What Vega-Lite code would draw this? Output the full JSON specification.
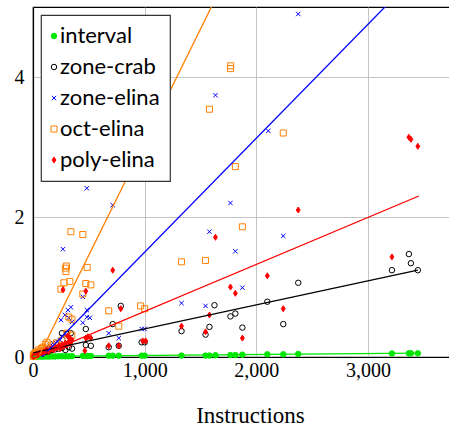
{
"$schema": "https://vega.github.io/schema/vega-lite/v6.json",
"width": 417, "height": 350,
"autosize": "none",
"padding": {"left": 33, "top": 7, "right": 0, "bottom": 71},
"datasets": {
"points": [
{"series":"interval","x":2,"y":0.005},{"series":"interval","x":10,"y":0.005},{"series":"interval","x":20,"y":0.005},{"series":"interval","x":35,"y":0.006},{"series":"interval","x":50,"y":0.006},{"series":"interval","x":70,"y":0.006},{"series":"interval","x":90,"y":0.007},{"series":"interval","x":110,"y":0.007},{"series":"interval","x":130,"y":0.007},{"series":"interval","x":150,"y":0.008},{"series":"interval","x":175,"y":0.008},{"series":"interval","x":200,"y":0.008},{"series":"interval","x":230,"y":0.01},{"series":"interval","x":260,"y":0.01},{"series":"interval","x":290,"y":0.01},{"series":"interval","x":320,"y":0.01},{"series":"interval","x":350,"y":0.012},{"series":"interval","x":446,"y":0.015},{"series":"interval","x":473,"y":0.015},{"series":"interval","x":491,"y":0.015},{"series":"interval","x":518,"y":0.015},{"series":"interval","x":678,"y":0.019},{"series":"interval","x":714,"y":0.019},{"series":"interval","x":768,"y":0.019},{"series":"interval","x":973,"y":0.019},{"series":"interval","x":1000,"y":0.019},{"series":"interval","x":1330,"y":0.02},{"series":"interval","x":1545,"y":0.02},{"series":"interval","x":1580,"y":0.02},{"series":"interval","x":1634,"y":0.025},{"series":"interval","x":1768,"y":0.028},{"series":"interval","x":1812,"y":0.028},{"series":"interval","x":1875,"y":0.033},{"series":"interval","x":2098,"y":0.038},{"series":"interval","x":2241,"y":0.038},{"series":"interval","x":2375,"y":0.043},{"series":"interval","x":3214,"y":0.05},{"series":"interval","x":3366,"y":0.052},{"series":"interval","x":3384,"y":0.052},{"series":"interval","x":3446,"y":0.052},
{"series":"zone-crab","x":3,"y":0.01},{"series":"zone-crab","x":10,"y":0.02},{"series":"zone-crab","x":20,"y":0.02},{"series":"zone-crab","x":35,"y":0.03},{"series":"zone-crab","x":50,"y":0.04},{"series":"zone-crab","x":70,"y":0.05},{"series":"zone-crab","x":90,"y":0.06},{"series":"zone-crab","x":110,"y":0.07},{"series":"zone-crab","x":140,"y":0.08},{"series":"zone-crab","x":170,"y":0.1},{"series":"zone-crab","x":200,"y":0.11},{"series":"zone-crab","x":230,"y":0.12},{"series":"zone-crab","x":260,"y":0.13},{"series":"zone-crab","x":290,"y":0.1},{"series":"zone-crab","x":320,"y":0.14},{"series":"zone-crab","x":350,"y":0.12},{"series":"zone-crab","x":259,"y":0.34},{"series":"zone-crab","x":304,"y":0.33},{"series":"zone-crab","x":339,"y":0.34},{"series":"zone-crab","x":473,"y":0.4},{"series":"zone-crab","x":473,"y":0.17},{"series":"zone-crab","x":518,"y":0.16},{"series":"zone-crab","x":678,"y":0.14},{"series":"zone-crab","x":714,"y":0.47},{"series":"zone-crab","x":768,"y":0.16},{"series":"zone-crab","x":786,"y":0.73},{"series":"zone-crab","x":973,"y":0.21},{"series":"zone-crab","x":1000,"y":0.21},{"series":"zone-crab","x":1330,"y":0.37},{"series":"zone-crab","x":1545,"y":0.32},{"series":"zone-crab","x":1580,"y":0.43},{"series":"zone-crab","x":1625,"y":0.74},{"series":"zone-crab","x":1768,"y":0.58},{"series":"zone-crab","x":1812,"y":0.62},{"series":"zone-crab","x":1875,"y":0.42},{"series":"zone-crab","x":2098,"y":0.79},{"series":"zone-crab","x":2241,"y":0.47},{"series":"zone-crab","x":2375,"y":1.06},{"series":"zone-crab","x":3214,"y":1.24},{"series":"zone-crab","x":3366,"y":1.47},{"series":"zone-crab","x":3384,"y":1.34},{"series":"zone-crab","x":3446,"y":1.24},
{"series":"zone-elina","x":3,"y":0.01},{"series":"zone-elina","x":10,"y":0.02},{"series":"zone-elina","x":25,"y":0.03},{"series":"zone-elina","x":40,"y":0.05},{"series":"zone-elina","x":60,"y":0.07},{"series":"zone-elina","x":90,"y":0.1},{"series":"zone-elina","x":120,"y":0.13},{"series":"zone-elina","x":150,"y":0.16},{"series":"zone-elina","x":179,"y":0.2},{"series":"zone-elina","x":220,"y":0.22},{"series":"zone-elina","x":241,"y":0.24},{"series":"zone-elina","x":268,"y":0.29},{"series":"zone-elina","x":300,"y":0.31},{"series":"zone-elina","x":250,"y":0.53},{"series":"zone-elina","x":286,"y":0.6},{"series":"zone-elina","x":321,"y":0.56},{"series":"zone-elina","x":339,"y":0.71},{"series":"zone-elina","x":313,"y":0.67},{"series":"zone-elina","x":348,"y":0.5},{"series":"zone-elina","x":268,"y":1.54},{"series":"zone-elina","x":446,"y":0.86},{"series":"zone-elina","x":482,"y":0.67},{"series":"zone-elina","x":509,"y":0.56},{"series":"zone-elina","x":482,"y":0.57},{"series":"zone-elina","x":446,"y":0.49},{"series":"zone-elina","x":482,"y":2.41},{"series":"zone-elina","x":678,"y":0.34},{"series":"zone-elina","x":714,"y":2.17},{"series":"zone-elina","x":768,"y":0.27},{"series":"zone-elina","x":973,"y":0.4},{"series":"zone-elina","x":1000,"y":0.4},{"series":"zone-elina","x":1330,"y":0.77},{"series":"zone-elina","x":1545,"y":0.73},{"series":"zone-elina","x":1580,"y":1.79},{"series":"zone-elina","x":1634,"y":3.74},{"series":"zone-elina","x":1768,"y":2.2},{"series":"zone-elina","x":1812,"y":1.51},{"series":"zone-elina","x":1875,"y":0.99},{"series":"zone-elina","x":2107,"y":3.23},{"series":"zone-elina","x":2241,"y":1.73},{"series":"zone-elina","x":2375,"y":4.9},
{"series":"oct-elina","x":2,"y":0.01},{"series":"oct-elina","x":5,"y":0.03},{"series":"oct-elina","x":10,"y":0.02},{"series":"oct-elina","x":15,"y":0.05},{"series":"oct-elina","x":20,"y":0.04},{"series":"oct-elina","x":30,"y":0.07},{"series":"oct-elina","x":40,"y":0.05},{"series":"oct-elina","x":50,"y":0.1},{"series":"oct-elina","x":60,"y":0.08},{"series":"oct-elina","x":75,"y":0.12},{"series":"oct-elina","x":89,"y":0.14},{"series":"oct-elina","x":110,"y":0.18},{"series":"oct-elina","x":125,"y":0.21},{"series":"oct-elina","x":150,"y":0.12},{"series":"oct-elina","x":180,"y":0.17},{"series":"oct-elina","x":210,"y":0.2},{"series":"oct-elina","x":259,"y":0.24},{"series":"oct-elina","x":304,"y":0.34},{"series":"oct-elina","x":348,"y":0.31},{"series":"oct-elina","x":250,"y":0.97},{"series":"oct-elina","x":277,"y":1.06},{"series":"oct-elina","x":330,"y":1.08},{"series":"oct-elina","x":290,"y":1.27},{"series":"oct-elina","x":295,"y":1.22},{"series":"oct-elina","x":300,"y":1.3},{"series":"oct-elina","x":339,"y":1.79},{"series":"oct-elina","x":446,"y":1.75},{"series":"oct-elina","x":485,"y":1.28},{"series":"oct-elina","x":473,"y":1.05},{"series":"oct-elina","x":518,"y":1.03},{"series":"oct-elina","x":446,"y":0.9},{"series":"oct-elina","x":321,"y":0.57},{"series":"oct-elina","x":348,"y":0.54},{"series":"oct-elina","x":678,"y":0.66},{"series":"oct-elina","x":768,"y":0.44},{"series":"oct-elina","x":964,"y":0.73},{"series":"oct-elina","x":1000,"y":0.69},{"series":"oct-elina","x":1330,"y":1.36},{"series":"oct-elina","x":1545,"y":1.38},{"series":"oct-elina","x":1580,"y":3.54},{"series":"oct-elina","x":1768,"y":4.12},{"series":"oct-elina","x":1770,"y":4.16},{"series":"oct-elina","x":1812,"y":2.72},{"series":"oct-elina","x":1875,"y":1.86},{"series":"oct-elina","x":2241,"y":3.2},
{"series":"poly-elina","x":3,"y":0.01},{"series":"poly-elina","x":8,"y":0.02},{"series":"poly-elina","x":15,"y":0.02},{"series":"poly-elina","x":25,"y":0.03},{"series":"poly-elina","x":35,"y":0.04},{"series":"poly-elina","x":45,"y":0.03},{"series":"poly-elina","x":55,"y":0.05},{"series":"poly-elina","x":65,"y":0.06},{"series":"poly-elina","x":75,"y":0.05},{"series":"poly-elina","x":85,"y":0.07},{"series":"poly-elina","x":95,"y":0.08},{"series":"poly-elina","x":105,"y":0.06},{"series":"poly-elina","x":115,"y":0.09},{"series":"poly-elina","x":125,"y":0.1},{"series":"poly-elina","x":140,"y":0.08},{"series":"poly-elina","x":155,"y":0.11},{"series":"poly-elina","x":170,"y":0.12},{"series":"poly-elina","x":185,"y":0.1},{"series":"poly-elina","x":200,"y":0.14},{"series":"poly-elina","x":215,"y":0.13},{"series":"poly-elina","x":230,"y":0.16},{"series":"poly-elina","x":245,"y":0.12},{"series":"poly-elina","x":260,"y":0.18},{"series":"poly-elina","x":275,"y":0.15},{"series":"poly-elina","x":290,"y":0.2},{"series":"poly-elina","x":305,"y":0.17},{"series":"poly-elina","x":320,"y":0.22},{"series":"poly-elina","x":335,"y":0.19},{"series":"poly-elina","x":350,"y":0.24},{"series":"poly-elina","x":310,"y":0.3},{"series":"poly-elina","x":330,"y":0.27},{"series":"poly-elina","x":268,"y":0.96},{"series":"poly-elina","x":473,"y":0.94},{"series":"poly-elina","x":473,"y":0.27},{"series":"poly-elina","x":491,"y":0.29},{"series":"poly-elina","x":518,"y":0.27},{"series":"poly-elina","x":464,"y":0.09},{"series":"poly-elina","x":678,"y":0.16},{"series":"poly-elina","x":714,"y":1.24},{"series":"poly-elina","x":768,"y":0.16},{"series":"poly-elina","x":786,"y":0.69},{"series":"poly-elina","x":982,"y":0.23},{"series":"poly-elina","x":1009,"y":0.23},{"series":"poly-elina","x":1330,"y":0.44},{"series":"poly-elina","x":1545,"y":0.36},{"series":"poly-elina","x":1580,"y":0.6},{"series":"poly-elina","x":1634,"y":1.71},{"series":"poly-elina","x":1768,"y":1.0},{"series":"poly-elina","x":1812,"y":0.91},{"series":"poly-elina","x":1875,"y":0.27},{"series":"poly-elina","x":2098,"y":1.16},{"series":"poly-elina","x":2241,"y":0.69},{"series":"poly-elina","x":2375,"y":2.1},{"series":"poly-elina","x":3214,"y":1.43},{"series":"poly-elina","x":3366,"y":3.14},{"series":"poly-elina","x":3384,"y":3.11},{"series":"poly-elina","x":3446,"y":3.01}
],
"fits": [
{"series":"interval","x":0,"y":0.008,"x2":3446,"y2":0.055},
{"series":"zone-crab","x":0,"y":0.06,"x2":3446,"y2":1.24},
{"series":"zone-elina","x":0,"y":-0.13,"x2":3446,"y2":5.48},
{"series":"oct-elina","x":0,"y":-0.16,"x2":3446,"y2":10.97},
{"series":"poly-elina","x":0,"y":-0.02,"x2":3455,"y2":2.3}
]
},
"config": {
"view": {"stroke": "black", "strokeWidth": 1.2},
"axis": {"domainColor": "black", "domainWidth": 1.2, "gridColor": "#bdbdbd", "gridWidth": 0.9, "ticks": false, "tickSize": 0, "labelFont": "Liberation Serif", "labelFontSize": 20, "labelColor": "black", "labelOverlap": false, "labelFlush": false, "titleFont": "Liberation Serif", "titleFontSize": 23, "titleFontWeight": "normal", "titleColor": "black"},
"legend": {"orient": "top-left", "offset": 8, "fillColor": "white", "strokeColor": "#333333", "strokeWidth": 1.2, "padding": 10, "labelFont": "Lato", "labelFontSize": 22, "labelColor": "black", "rowPadding": 9, "labelOffset": -5, "symbolOffset": -8, "symbolSize": 30, "symbolStrokeWidth": 1}
},
"layer": [
{"data": {"name": "points"},
 "mark": {"type": "point", "opacity": 1, "fillOpacity": 1, "strokeWidth": 1, "size": 30},
 "encoding": {
  "x": {"field": "x", "type": "quantitative", "scale": {"domain": [0, 3734], "nice": false, "zero": false},
        "axis": {"values": [0, 1000, 2000, 3000], "format": ",d", "labelPadding": 3, "title": "Instructions", "titleX": 217, "titleY": 65, "titleBaseline": "alphabetic", "titleAnchor": "middle", "titleAlign": "center"}},
  "y": {"field": "y", "type": "quantitative", "scale": {"domain": [0, 5], "nice": false},
        "axis": {"values": [0, 2, 4], "format": "d", "title": null, "labelPadding": 9}},
  "shape": {"field": "series", "type": "nominal", "scale": {"domain": ["interval", "zone-crab", "zone-elina", "oct-elina", "poly-elina"], "range": ["circle", "circle", "M-0.8,-0.8L0.8,0.8M-0.8,0.8L0.8,-0.8", "M-1.1,-1.1H1.1V1.1H-1.1Z", "M0,-1.1L0.7,0L0,1.1L-0.7,0Z"]}, "legend": {"title": null}},
  "stroke": {"field": "series", "type": "nominal", "scale": {"domain": ["interval", "zone-crab", "zone-elina", "oct-elina", "poly-elina"], "range": ["#00e600", "black", "blue", "#ff8000", "red"]}, "legend": {"title": null}},
  "fill": {"field": "series", "type": "nominal", "scale": {"domain": ["interval", "zone-crab", "zone-elina", "oct-elina", "poly-elina"], "range": ["#00e600", "transparent", "transparent", "transparent", "red"]}, "legend": {"title": null}}
 }},
{"data": {"name": "fits"},
 "mark": {"type": "rule", "clip": true, "strokeWidth": 1.3},
 "encoding": {
  "x": {"field": "x", "type": "quantitative"},
  "y": {"field": "y", "type": "quantitative"},
  "x2": {"field": "x2"},
  "y2": {"field": "y2"},
  "color": {"field": "series", "type": "nominal", "scale": {"domain": ["interval", "zone-crab", "zone-elina", "oct-elina", "poly-elina"], "range": ["#00e600", "black", "blue", "#ff8000", "red"]}, "legend": null}
 }}
]
}
